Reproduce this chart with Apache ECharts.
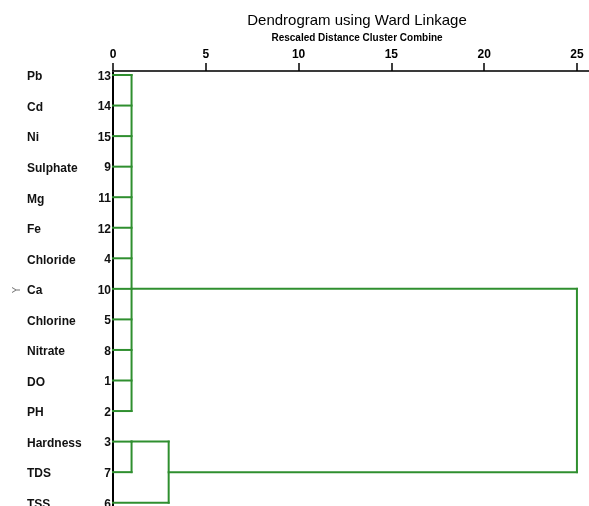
<!DOCTYPE html>
<html>
<head>
<meta charset="utf-8">
<script src="https://cdn.jsdelivr.net/npm/echarts@6/dist/echarts.min.js"></script>
<style>
  html, body { margin: 0; padding: 0; background: #fff; }
  #chart { width: 589px; height: 506px; }
</style>
</head>
<body>
<div id="chart"></div>
<script>
// leaves, top to bottom
const leafNames = ['Pb', 'Cd', 'Ni', 'Sulphate', 'Mg', 'Fe', 'Chloride', 'Ca', 'Chlorine', 'Nitrate', 'DO', 'PH', 'Hardness', 'TDS', 'TSS']
const leafIds = [13, 14, 15, 9, 11, 12, 4, 10, 5, 8, 1, 2, 3, 7, 6]
// merges (rescaled distance), children are leaf rows or 'nK' for merge K
const mergeHeights = [1, 1, 3, 25]
const mergeRows = [7, 12, 13, 7]
const mergeChildren = [
  [0, 1, 2, 3, 4, 5, 6, 7, 8, 9, 10, 11],
  [12, 13],
  ['n1', 14],
  ['n0', 'n2']
]
const xTicks = [0, 5, 10, 15, 20, 25]

const green = '#2f8f2f'

function nodePos(c) {
  if (typeof c === 'string') {
    const k = +c.slice(1)
    return { row: mergeRows[k], h: mergeHeights[k] }
  }
  return { row: c, h: 0 }
}

// build bracket segments [x1, y1, x2, y2]
const segments = []
mergeChildren.forEach(function (kids, k) {
  const H = mergeHeights[k]
  let lo = Infinity, hi = -Infinity
  kids.forEach(function (c) {
    const p = nodePos(c)
    segments.push([p.h, p.row, H, p.row])
    lo = Math.min(lo, p.row)
    hi = Math.max(hi, p.row)
  })
  segments.push([H, lo, H, hi])
})

const rowIdx = leafNames.map(function (n, i) { return i })

const chart = echarts.init(document.getElementById('chart'))
chart.setOption({
  animation: false,
  backgroundColor: '#fff',
  graphic: [
    {
      type: 'text', x: 357, y: 13,
      style: { text: 'Dendrogram using Ward Linkage', align: 'center', fill: '#000', font: '15px "Liberation Sans", Arial, sans-serif' }
    },
    {
      type: 'text', x: 357, y: 33,
      style: { text: 'Rescaled Distance Cluster Combine', align: 'center', fill: '#000', font: 'bold 10px "Liberation Sans", Arial, sans-serif' }
    },
    {
      type: 'text', x: 17, y: 290, rotation: Math.PI / 2,
      style: { text: 'Y', align: 'center', verticalAlign: 'middle', fill: '#777', font: '10px "DejaVu Sans", sans-serif' }
    }
  ],
  grid: { left: 113, right: 0, top: 71, bottom: 0, containLabel: false, outerBoundsMode: 'none' },
  xAxis: {
    type: 'value',
    position: 'top',
    min: 0,
    max: 25.65,
    axisLine: { onZero: false, lineStyle: { color: '#3a3a3a', width: 2 } },
    axisTick: { customValues: xTicks, length: 8, lineStyle: { color: '#000', width: 1.5 } },
    axisLabel: {
      customValues: xTicks,
      margin: 10,
      color: '#000',
      fontWeight: 'bold',
      fontSize: 12,
      fontFamily: '"Liberation Sans", Arial, sans-serif'
    },
    splitLine: { show: false }
  },
  yAxis: {
    type: 'value',
    inverse: true,
    min: -0.131,
    max: 14.108,
    axisLine: { show: true, onZero: false, lineStyle: { color: '#000', width: 2 } },
    axisTick: { show: false },
    splitLine: { show: false },
    axisLabel: {
      customValues: rowIdx,
      margin: 2,
      formatter: function (v) {
        const i = Math.round(v)
        return '{n|' + leafNames[i] + '}{c|' + leafIds[i] + '}'
      },
      rich: {
        n: { width: 60, align: 'left', color: '#111', fontWeight: 'bold', fontSize: 12, fontFamily: '"Liberation Sans", Arial, sans-serif', padding: [4, 0, 0, 0] },
        c: { width: 24, align: 'right', color: '#111', fontWeight: 'bold', fontSize: 12, fontFamily: '"Liberation Sans", Arial, sans-serif', padding: [3, 0, 0, 0] }
      }
    }
  },
  series: [
    {
      type: 'custom',
      silent: true,
      clip: false,
      encode: { x: [0, 2], y: [1, 3] },
      renderItem: function (params, api) {
        const a = api.coord([api.value(0), api.value(1)])
        const b = api.coord([api.value(2), api.value(3)])
        return {
          type: 'line',
          shape: { x1: a[0], y1: a[1], x2: b[0], y2: b[1] },
          style: { stroke: green, lineWidth: 2, lineCap: 'square' }
        }
      },
      data: segments
    }
  ]
})
</script>
</body>
</html>
